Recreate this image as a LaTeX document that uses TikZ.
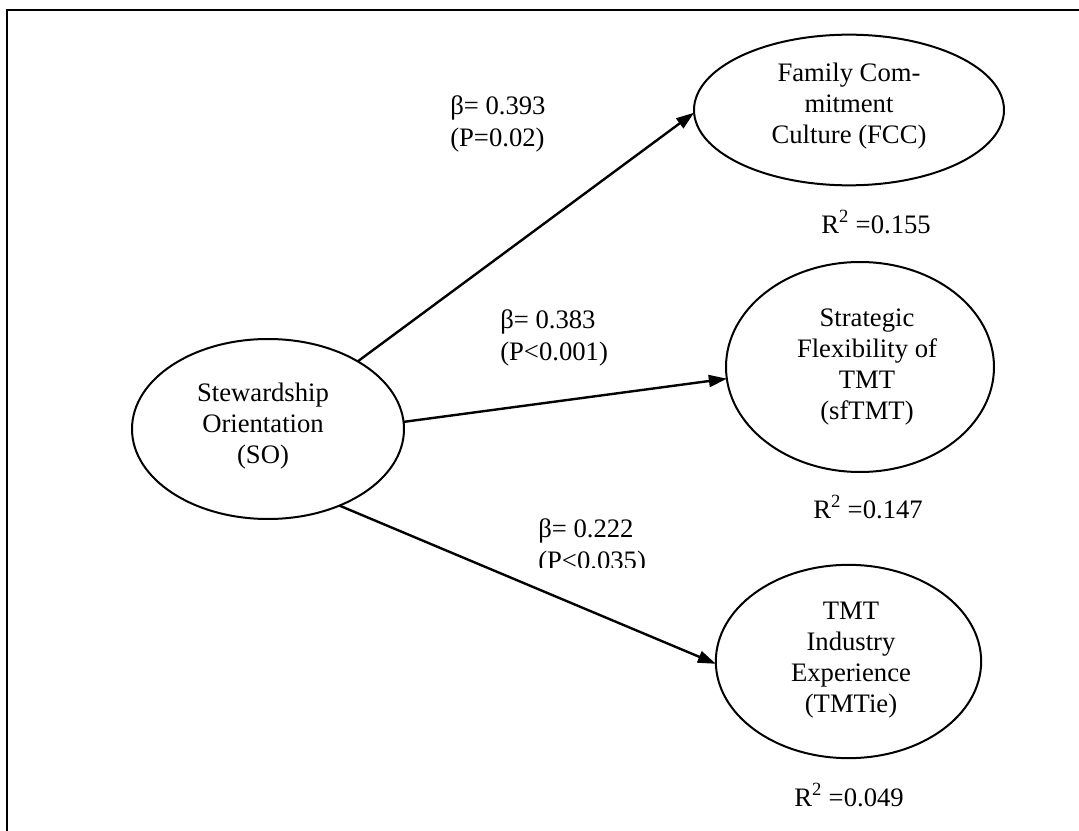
\documentclass[tikz,border=0pt]{standalone}
\usepackage{fontspec}
\setmainfont{Liberation Serif}
\usetikzlibrary{shapes.geometric,arrows.meta}
\begin{document}
\begin{tikzpicture}[x=0.75pt,y=-0.75pt,
  construct/.style={ellipse,draw,line width=1.5pt,inner sep=0pt,outer sep=0pt},
  ctext/.style={align=center,font=\fontsize{20}{23.4}\selectfont,inner sep=0pt},
  coef/.style={align=left,anchor=west,font=\fontsize{20}{23.4}\selectfont,inner sep=0pt},
  rsq/.style={font=\fontsize{20}{23.4}\selectfont,inner sep=0pt},
  effect/.style={line width=1.8pt,-{Triangle[length=13.5pt,width=9pt]}}]
\useasboundingbox (0,0) rectangle (1079,831);
% frame: only the top and left edges fall inside the page
\draw[line width=2.2pt] (7,840) -- (7,10) -- (1090,10);

% constructs
\node[construct,minimum width=204pt,minimum height=135pt] (SO) at (268,429) {};
\node[construct,minimum width=232.5pt,minimum height=113pt] (FCC) at (849,110) {};
\node[construct,minimum width=201pt,minimum height=157.5pt] (SF) at (860,367) {};
\node[construct,minimum width=199pt,minimum height=145pt] (TIE) at (848.5,661.5) {};

\node[ctext] (SOt) at (263,426) {Stewardship\\Orientation\\(SO)};
\node[ctext] (FCCt) at (849,106) {Family Com-\\mitment\\Culture (FCC)};
\node[ctext] (SFt) at (867,367) {Strategic\\Flexibility of\\TMT\\(sfTMT)};
\node[ctext] (TIEt) at (851,660) {TMT\\Industry\\Experience\\(TMTie)};

% paths
\draw[effect] (SO.37) -- (FCC.181);
\draw[effect] (SO.3) -- (SF.185);
\draw[effect] (SO.-47) -- (TIE.181.5);

% path coefficients
\node[coef] (b1) at (450,124) {β= 0.393\\(P=0.02)};
\node[coef] (b2) at (500,338) {β= 0.383\\(P<0.001)};
% the lower label sits in a box that cuts off the foot of its second line
\begin{scope}
\clip (530,505) rectangle (670,567);
\node[coef] (b3) at (538,547) {β= 0.222\\(P<0.035)};
\end{scope}

% explained variance
\node[rsq] (r1) at (876,222) {R\textsuperscript{2} =0.155};
\node[rsq] (r2) at (868,507) {R\textsuperscript{2} =0.147};
\node[rsq] (r3) at (849,795) {R\textsuperscript{2} =0.049};
\end{tikzpicture}
\end{document}
